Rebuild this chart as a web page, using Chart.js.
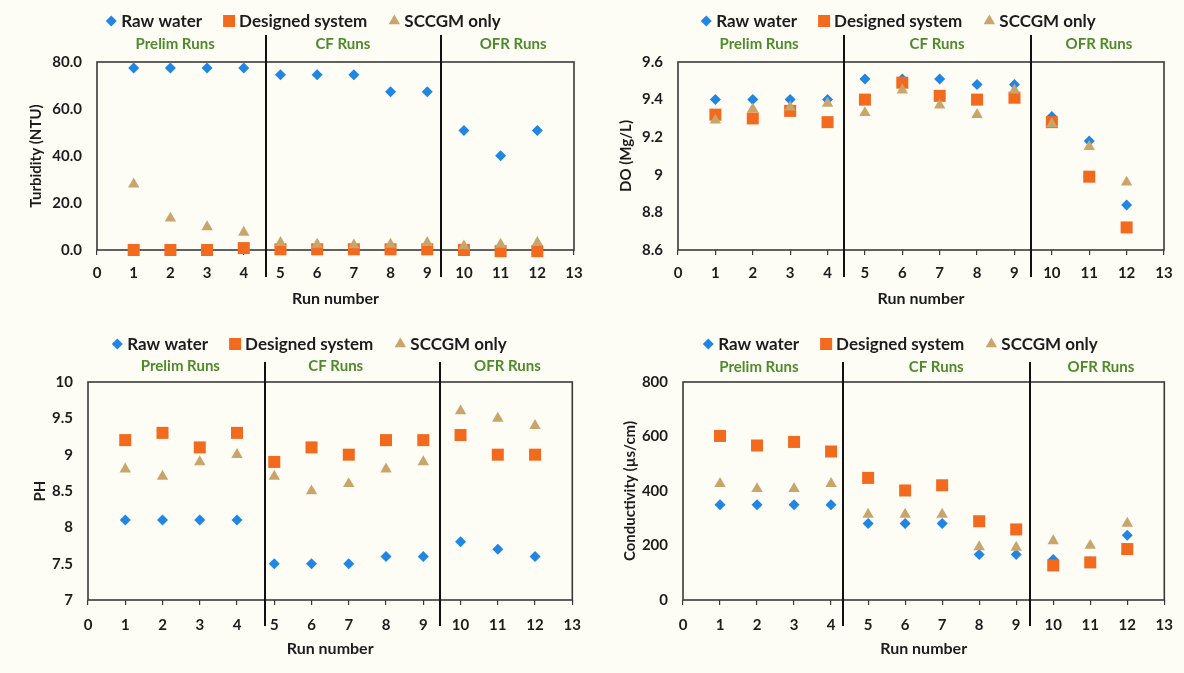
<!DOCTYPE html>
<html>
<head>
<meta charset="utf-8">
<title>Water quality by run</title>
<script src="https://cdn.jsdelivr.net/npm/chart.js@4.4.1/dist/chart.umd.min.js"></script>
<style>
  body  { margin: 0; background: #fdfdf6; }
  .cell { position: absolute; }
</style>
</head>
<body>
<div class="cell" style="left:0;top:0"><canvas id="turbidityChart" width="592" height="336"></canvas></div>
<div class="cell" style="left:592px;top:0"><canvas id="doChart" width="592" height="336"></canvas></div>
<div class="cell" style="left:0;top:336px"><canvas id="phChart" width="592" height="337"></canvas></div>
<div class="cell" style="left:592px;top:336px"><canvas id="condChart" width="592" height="337"></canvas></div>

<script>
// Run numbers and series names
const runs         = [1, 2, 3, 4, 5, 6, 7, 8, 9, 10, 11, 12];
const seriesNames  = ['Raw water', 'Designed system', 'SCCGM only'];
const sectionNames = ['Prelim Runs', 'CF Runs', 'OFR Runs'];
const xTickLabels  = ['0', '1', '2', '3', '4', '5', '6', '7', '8', '9', '10', '11', '12', '13'];

// Turbidity (NTU)
const turbidityRaw      = [77.5, 77.5, 77.5, 77.5, 74.6, 74.6, 74.6, 67.3, 67.3, 50.8, 40.1, 50.8];
const turbidityDesigned = [0.0, 0.0, 0.0, 0.8, 0.3, 0.3, 0.3, 0.3, 0.3, 0.0, -0.5, -0.5];
const turbiditySccgm    = [28.0, 13.5, 9.8, 7.5, 3.1, 2.4, 2.1, 2.4, 3.1, 1.7, 2.4, 3.1];
const turbidityTicks    = ['0.0', '20.0', '40.0', '60.0', '80.0'];

// Dissolved oxygen (Mg/L)
const doRaw      = [9.40, 9.40, 9.40, 9.40, 9.51, 9.51, 9.51, 9.48, 9.48, 9.31, 9.18, 8.84];
const doDesigned = [9.32, 9.30, 9.34, 9.28, 9.40, 9.49, 9.42, 9.40, 9.41, 9.28, 8.99, 8.72];
const doSccgm    = [9.29, 9.35, 9.36, 9.38, 9.33, 9.45, 9.37, 9.32, 9.45, 9.27, 9.15, 8.96];
const doTicks    = ['8.6', '8.8', '9', '9.2', '9.4', '9.6'];

// pH
const phRaw      = [8.1, 8.1, 8.1, 8.1, 7.5, 7.5, 7.5, 7.6, 7.6, 7.8, 7.7, 7.6];
const phDesigned = [9.2, 9.3, 9.1, 9.3, 8.9, 9.1, 9.0, 9.2, 9.2, 9.27, 9.0, 9.0];
const phSccgm    = [8.8, 8.7, 8.9, 9.0, 8.7, 8.5, 8.6, 8.8, 8.9, 9.6, 9.5, 9.4];
const phTicks    = ['7', '7.5', '8', '8.5', '9', '9.5', '10'];

// Conductivity (µs/cm)
const condRaw      = [350, 350, 350, 350, 281, 281, 281, 167, 167, 149, 140, 238];
const condDesigned = [602, 567, 580, 545, 448, 402, 421, 289, 259, 127, 138, 187];
const condSccgm    = [427, 408, 408, 427, 314, 314, 314, 195, 193, 217, 200, 281];
const condTicks    = ['0', '200', '400', '600', '800'];

// Marker look for the three series (Excel-like)
const markers = [
  { color: '#2186e3', style: 'rectRot',  radius: 5.5 },
  { color: '#f26a1e', style: 'rect',     radius: 8.5 },
  { color: '#c9a56c', style: 'triangle', radius: 6.6 },
];

const TEXT_COLOR    = '#1c1c1c';
const SECTION_COLOR = '#4f8a2b';
const FONT          = 'Lato, "Open Sans", sans-serif';

Chart.defaults.font.family = FONT;
Chart.defaults.font.size   = 15;
Chart.defaults.font.weight = 'bold';
Chart.defaults.color       = TEXT_COLOR;

// Draws a marker with Chart.js' own point renderer
function drawMarker(ctx, m, x, y) {
  ctx.save();
  ctx.fillStyle = m.color;
  Chart.helpers.drawPoint(ctx, { pointStyle: m.style, radius: m.radius, rotation: 0, borderWidth: 0 }, x, y);
  ctx.restore();
}

/**
 * Plot frame, run-section dividers, section labels and the legend row.
 */
const panelDecor = {
  id: 'panelDecor',
  beforeDatasetsDraw(chart) {
    const { ctx, chartArea: a } = chart;
    ctx.save();
    ctx.strokeStyle = '#3a3a3a';
    ctx.lineWidth = 1.6;
    ctx.strokeRect(a.left, a.top, a.right - a.left, a.bottom - a.top);
    ctx.restore();
  },
  afterDraw(chart, args, opts) {
    const { ctx } = chart;
    const xs = chart.scales.x;

    // divider lines between run groups
    ctx.save();
    ctx.strokeStyle = '#111';
    ctx.lineWidth = 2;
    opts.dividers.forEach((d) => {
      const px = Math.round(xs.getPixelForValue(d));
      ctx.beginPath();
      ctx.moveTo(px, opts.divTop);
      ctx.lineTo(px, opts.divBottom);
      ctx.stroke();
    });

    // section labels
    ctx.font = 'bold 15px ' + FONT;
    ctx.fillStyle = SECTION_COLOR;
    ctx.textAlign = 'center';
    ctx.textBaseline = 'middle';
    sectionNames.forEach((name, i) => {
      ctx.fillText(name, xs.getPixelForValue(opts.sections[i]), opts.sectionY);
    });

    // legend
    const gapMarker = 4, gapItem = 21, mw = 12;
    ctx.font = 'bold 17px ' + FONT;
    ctx.textAlign = 'left';
    const widths = seriesNames.map((n) => ctx.measureText(n).width);
    const total = widths.reduce((s, w) => s + mw + gapMarker + w, 0) + gapItem * (seriesNames.length - 1);
    let x = opts.legendX - total / 2;
    seriesNames.forEach((name, i) => {
      drawMarker(ctx, markers[i], x + mw / 2, opts.legendY);
      ctx.fillStyle = TEXT_COLOR;
      ctx.fillText(name, x + mw + gapMarker, opts.legendY + 1);
      x += mw + gapMarker + widths[i] + gapItem;
    });
    ctx.restore();
  },
};

function makePanel(p) {
  const canvas = document.getElementById(p.id);
  const H = canvas.height, W = canvas.width;

  const datasets = p.series.map((vals, i) => ({
    label:           seriesNames[i],
    data:            runs.map((r, k) => ({ x: r, y: vals[k] })),
    pointStyle:      markers[i].style,
    pointRadius:     markers[i].radius,
    backgroundColor: markers[i].color,
    borderColor:     markers[i].color,
    borderWidth:     0,
    showLine:        false,
    clip:            false,
    order:           3 - i,   // last series on top, like Excel
  }));

  return new Chart(canvas, {
    type: 'scatter',
    data: { datasets },
    plugins: [panelDecor],
    options: {
      responsive: false,
      animation:  false,
      events:     [],
      layout: { padding: { left: 0, top: p.plot.top, right: W - p.plot.right, bottom: 0 } },
      plugins: {
        legend:  { display: false },
        tooltip: { enabled: false },
        panelDecor: p.decor,
      },
      scales: {
        x: {
          type: 'linear',
          min: 0,
          max: 13,
          afterBuildTicks: (s) => { s.ticks = xTickLabels.map((l) => ({ value: Number(l) })); },
          afterFit: (s) => { s.height = H - p.plot.bottom; },
          ticks:  { padding: p.xTickPad, maxRotation: 0, autoSkip: false, callback: (v, i) => xTickLabels[i] },
          grid:   { drawOnChartArea: false, drawTicks: true, tickLength: 5, color: '#3a3a3a', lineWidth: 1.2 },
          border: { display: false },
          title:  { display: true, text: 'Run number', font: { size: 16 }, padding: { top: 0, bottom: p.xTitlePad } },
        },
        y: {
          type: 'linear',
          min: Number(p.ticks[0]),
          max: Number(p.ticks[p.ticks.length - 1]),
          afterBuildTicks: (s) => { s.ticks = p.ticks.map((l) => ({ value: Number(l) })); },
          afterFit: (s) => { s.width = p.plot.left; },
          ticks:  { padding: 15, autoSkip: false, callback: (v, i) => p.ticks[i] },
          grid:   { display: false, drawTicks: false },
          border: { display: false },
          title:  { display: true, text: p.yTitle, padding: { top: p.yTitlePad, bottom: 0 } },
        },
      },
    },
  });
}

makePanel({
  id: 'turbidityChart', yTitle: 'Turbidity (NTU)', ticks: turbidityTicks,
  series: [turbidityRaw, turbidityDesigned, turbiditySccgm],
  plot: { left: 97, right: 574, top: 62, bottom: 250 }, yTitlePad: 27, xTitlePad: 28, xTickPad: 9,
  decor: { dividers: [4.61, 9.38], sections: [2.13, 6.70, 11.34], sectionY: 44,
           divTop: 35, divBottom: 277, legendX: 303, legendY: 21 },
});

makePanel({
  id: 'doChart', yTitle: 'DO (Mg/L)', ticks: doTicks,
  series: [doRaw, doDesigned, doSccgm],
  plot: { left: 86, right: 572, top: 62, bottom: 250 }, yTitlePad: 25, xTitlePad: 28, xTickPad: 9,
  decor: { dividers: [4.44, 9.44], sections: [2.17, 6.93, 11.26], sectionY: 44,
           divTop: 35, divBottom: 277, legendX: 306, legendY: 21 },
});

makePanel({
  id: 'phChart', yTitle: 'PH', ticks: phTicks,
  series: [phRaw, phDesigned, phSccgm],
  plot: { left: 88, right: 574, top: 46, bottom: 264 }, yTitlePad: 31, xTitlePad: 15, xTickPad: 11,
  decor: { dividers: [4.76, 9.44], sections: [2.48, 6.65, 11.26], sectionY: 30,
           divTop: 26, divBottom: 290, legendX: 309, legendY: 8 },
});

makePanel({
  id: 'condChart', yTitle: 'Conductivity (µs/cm)', ticks: condTicks,
  series: [condRaw, condDesigned, condSccgm],
  plot: { left: 91, right: 574, top: 46, bottom: 264 }, yTitlePad: 29, xTitlePad: 15, xTickPad: 11,
  decor: { dividers: [4.33, 9.37], sections: [2.05, 6.84, 11.29], sectionY: 31,
           divTop: 26, divBottom: 290, legendX: 308, legendY: 8 },
});
</script>
</body>
</html>
